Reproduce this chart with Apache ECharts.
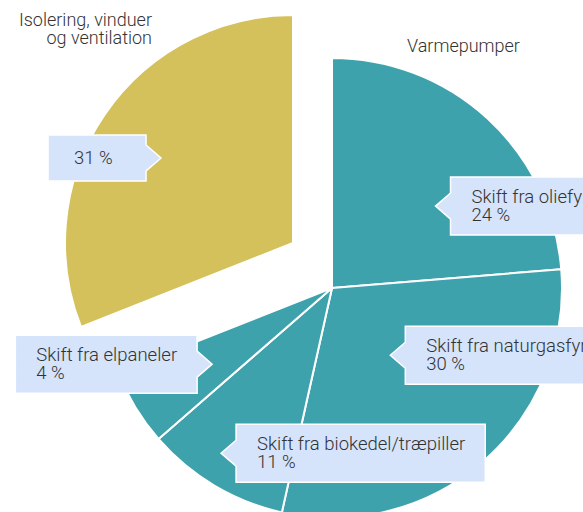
<!DOCTYPE html>
<html><head><meta charset="utf-8">
<script src="https://cdn.jsdelivr.net/npm/echarts@6/dist/echarts.min.js"></script>
<style>html,body{margin:0;padding:0;background:#fff}#c{width:583px;height:512px}</style>
</head><body><div id="c"></div>
<script>
// ---- data ----
const categories = ['Skift fra oliefyr', 'Skift fra naturgasfyr', 'Skift fra biokedel/træpiller', 'Skift fra elpaneler', 'Isolering, vinduer og ventilation'];
// slice sizes as drawn in the picture (percent)
const values = [23.7, 29.8, 10.1, 5.4, 31.0];
// value labels as printed in the picture
const valueLabels = ['24 %', '30 %', '11 %', '4 %', '31 %'];
const groupOf = ['heat', 'heat', 'heat', 'heat', 'insul'];
const groupTitles = { heat: 'Varmepumper', insul: 'Isolering, vinduer\nog ventilation' };

// ---- style / layout ----
const TEAL = '#3ea2ad', YELLOW = '#d4c15b', BOX = '#d5e3fb', TXT = '#333333';
const FONT_FAMILY = 'Roboto, "Noto Sans", sans-serif';
const FONT_SIZE = 18.5, FONT_WEIGHT = 300, LINE_H = 18;
const pies = {
  heat: { center: [332, 288], radius: 230, color: TEAL },
  insul: { center: [293, 243], radius: 228, color: YELLOW }
};
const callout = [
  { side: 'right', r: 132, da: 9.0 },
  { side: 'right', r: 89, da: 0.1 },
  { side: 'right', r: 199, da: 3.1 },
  { side: 'left', r: 142, da: -1.1 },
  { side: 'left', r: 157, da: -1.4 }
];
const groupLabelPos = { heat: { x: 407, y: 45, align: 'left' }, insul: { x: 152, y: 28, align: 'right' } };

const chart = echarts.init(document.getElementById('c'), null, { renderer: 'svg', width: 583, height: 512 });

function pieSeries(g) {
  const p = pies[g];
  return {
    type: 'pie', silent: true, animation: false,
    center: p.center, radius: p.radius, startAngle: 90, clockwise: true,
    label: { show: false }, labelLine: { show: false }, emphasis: { disabled: true },
    data: categories.map((n, i) => ({
      name: n, value: values[i],
      itemStyle: groupOf[i] === g
        ? { color: p.color, borderColor: '#fff', borderWidth: 2 }
        : { color: 'rgba(0,0,0,0)', borderWidth: 0 }
    }))
  };
}

// text measurement
const mctx = document.createElement('canvas').getContext('2d');
mctx.font = FONT_WEIGHT + ' ' + FONT_SIZE + 'px ' + FONT_FAMILY;

const total = values.reduce((a, b) => a + b, 0);
const graphics = [];
let cum = 0;
values.forEach((v, i) => {
  const mid = (cum + v / 2) / total * 360;
  cum += v;
  const g = groupOf[i];
  const p = pies[g];
  const c = callout[i];
  const a = (mid + c.da) * Math.PI / 180;
  const tx = p.center[0] + c.r * Math.sin(a);
  const ty = p.center[1] - c.r * Math.cos(a);
  const text = g === 'heat' ? categories[i] + '\n' + valueLabels[i] : valueLabels[i];
  const lines = text.split('\n');
  const tw = Math.max(...lines.map(l => mctx.measureText(l).width));
  const padL = lines.length === 1 ? 26 : 21;
  const w = Math.max(tw + padL + 20, 98);
  const h = lines.length === 1 ? 46 : 58;
  const depth = 15, ah = 13;
  let xL, xR, pts;
  const yT = ty - h / 2, yB = ty + h / 2;
  if (c.side === 'right') {
    xL = tx + depth; xR = xL + w;
    pts = [[xL, yT], [xR, yT], [xR, yB], [xL, yB], [xL, ty + ah], [tx, ty], [xL, ty - ah]];
  } else {
    xR = tx - depth; xL = xR - w;
    pts = [[xL, yT], [xR, yT], [xR, ty - ah], [tx, ty], [xR, ty + ah], [xR, yB], [xL, yB]];
  }
  graphics.push({
    type: 'polygon', silent: true, z: 10,
    shape: { points: pts },
    style: { fill: BOX, stroke: '#ffffff', lineWidth: 1.5 }
  });
  graphics.push({
    type: 'text', silent: true, z: 11,
    style: {
      text: text, x: xL + padL, y: ty, align: 'left', verticalAlign: 'middle',
      fill: TXT, fontSize: FONT_SIZE, fontFamily: FONT_FAMILY, fontWeight: FONT_WEIGHT, lineHeight: LINE_H
    }
  });
});

Object.keys(groupTitles).forEach(g => {
  const pos = groupLabelPos[g];
  graphics.push({
    type: 'text', silent: true, z: 11,
    style: {
      text: groupTitles[g], x: pos.x, y: pos.y, align: pos.align, verticalAlign: 'middle',
      fill: TXT, fontSize: 18, fontFamily: FONT_FAMILY, fontWeight: FONT_WEIGHT, lineHeight: LINE_H
    }
  });
});

chart.setOption({
  animation: false,
  backgroundColor: '#ffffff',
  series: [pieSeries('heat'), pieSeries('insul')],
  graphic: graphics
});
</script></body></html>
